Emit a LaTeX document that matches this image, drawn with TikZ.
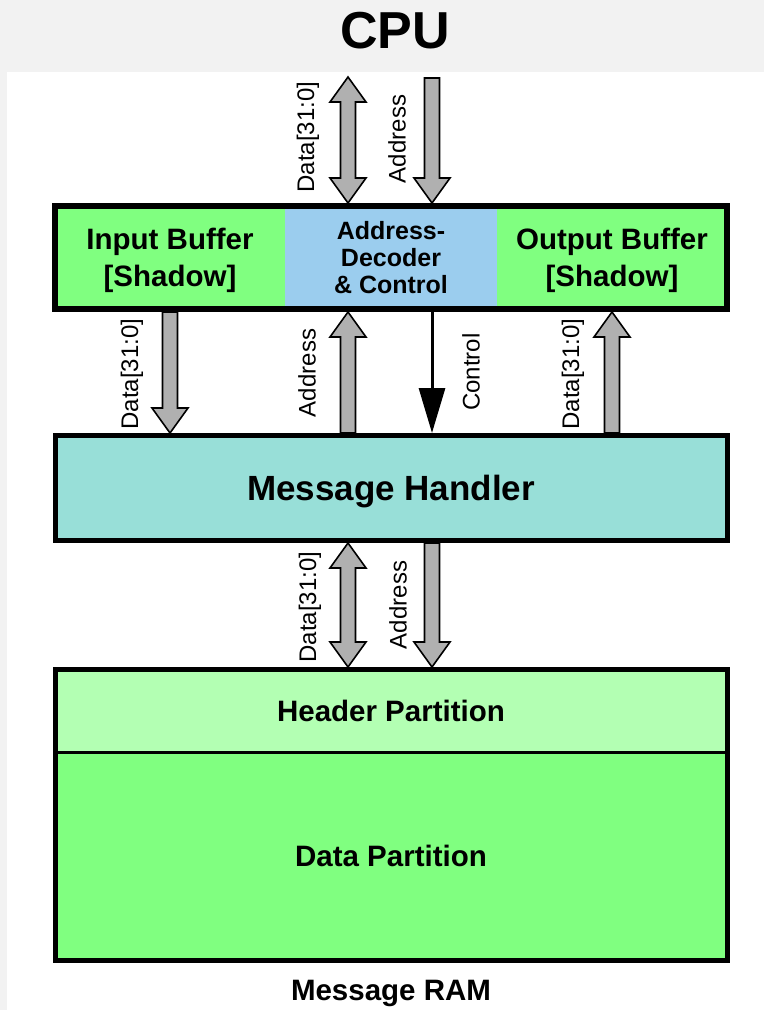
\documentclass[tikz,border=0pt]{standalone}
\usepackage{fontspec}
\setmainfont{Liberation Sans}
\usetikzlibrary{calc,arrows.meta}

\definecolor{bggray}{HTML}{F2F2F2}
\definecolor{bufgreen}{HTML}{80FF80}
\definecolor{decblue}{HTML}{9BCDEE}
\definecolor{mhteal}{HTML}{98DFD8}
\definecolor{hdrgreen}{HTML}{B3FFB3}
\definecolor{busgray}{HTML}{B0B0B0}

% fat bus arrow, head at the second end
\newcommand\busline[2]{%
  \path[bus] let \p1=(#1), \p2=(#2), \n1={sign(\y2-\y1)} in
    (\x1-7.5pt,\y1) -- (\x1-7.5pt,\y2-\n1*25pt) -- (\x1-18pt,\y2-\n1*25pt)
    -- (\x1,\y2) -- (\x1+18pt,\y2-\n1*25pt) -- (\x1+7.5pt,\y2-\n1*25pt)
    -- (\x1+7.5pt,\y1) -- cycle;}
% fat bus arrow, heads at both ends
\newcommand\busboth[2]{%
  \path[bus] let \p1=(#1), \p2=(#2), \n1={sign(\y2-\y1)} in
    (\x1,\y1) -- (\x1-18pt,\y1+\n1*25pt) -- (\x1-7.5pt,\y1+\n1*25pt)
    -- (\x1-7.5pt,\y2-\n1*25pt) -- (\x1-18pt,\y2-\n1*25pt) -- (\x1,\y2)
    -- (\x1+18pt,\y2-\n1*25pt) -- (\x1+7.5pt,\y2-\n1*25pt)
    -- (\x1+7.5pt,\y1+\n1*25pt) -- (\x1+18pt,\y1+\n1*25pt) -- cycle;}

\begin{document}
\begin{tikzpicture}[x=1pt,y=-1pt,
  every node/.style={inner sep=0pt,outer sep=0pt},
  cell/.style={rectangle,minimum height=103pt,align=center,
    font=\fontsize{29.5pt}{37pt}\selectfont\bfseries},
  frame/.style={rectangle,draw=black,line width=#1,outer sep=0.5\pgflinewidth},
  bus/.style={draw=black,fill=busgray,line width=1.6pt,line join=miter},
  ctrl/.style={draw=black,line width=3pt,-{Triangle[length=45pt,width=26pt]}},
  buslabel/.style={rotate=90,font=\fontsize{24pt}{24pt}\selectfont},
  title/.style={font=\fontsize{29.5pt}{30pt}\selectfont\bfseries}]
\fill[bggray] (0,0) rectangle (764,1010);
\fill[white] (7,72) rectangle (764,1010);
\useasboundingbox (0,0) rectangle (764,1010);

\node[font=\fontsize{52pt}{52pt}\selectfont\bfseries,anchor=base] (cpu) at (395,48) {CPU};

% buffers and decoder
\node[cell,fill=bufgreen,minimum width=230pt] (inbuf) at (170,260) {Input Buffer\\{[}Shadow{]}};
\node[cell,fill=decblue,minimum width=212pt,font=\fontsize{25pt}{27pt}\selectfont\bfseries] (decoder) at (391,257.5) {Address-\\Decoder\\\&~Control};
\node[cell,fill=bufgreen,minimum width=230pt] (outbuf) at (612,260) {Output Buffer\\{[}Shadow{]}};
\node[frame=6pt,minimum width=672pt,minimum height=103pt] (topbox) at (391,257.5) {};

% message handler
\node[frame=5pt,fill=mhteal,minimum width=672pt,minimum height=105pt,
  text height=25pt,text depth=0pt,
  font=\fontsize{35pt}{35pt}\selectfont\bfseries] (handler) at (391,488) {Message Handler};

% message ram
\node[title,rectangle,fill=hdrgreen,minimum width=672pt,minimum height=82.5pt] (header) at (391,710.75) {Header Partition};
\node[title,rectangle,fill=bufgreen,minimum width=672pt,minimum height=208.5pt] (datapart) at (391,856.25) {Data Partition};
\draw[line width=3pt] (header.south west) -- (header.south east);
\node[frame=5pt,minimum width=672pt,minimum height=291pt] (ram) at (391,815) {};
\node[title,anchor=base] (ramname) at (391,1000) {Message RAM};

% cpu side
\coordinate (cpudat) at (348,77);
\coordinate (cpuadr) at (432,78);
\busboth{cpudat}{cpudat |- topbox.north}
\busline{cpuadr}{cpuadr |- topbox.north}
\node[buslabel] (l1) at (308,137) {Data[31:0]};
\node[buslabel] (l2) at (397,139) {Address};

% buffers to handler
\busline{inbuf.south |- topbox.south}{inbuf.south |- handler.north}
\busline{cpudat |- handler.north}{cpudat |- topbox.south}
\draw[ctrl] (cpuadr |- topbox.south) -- (cpuadr |- handler.north);
\busline{outbuf.south |- handler.north}{outbuf.south |- topbox.south}
\node[buslabel] (l3) at (132,374) {Data[31:0]};
\node[buslabel] (l4) at (307,373) {Address};
\node[buslabel] (l5) at (471,372) {Control};
\node[buslabel] (l6) at (573,374) {Data[31:0]};

% handler to ram
\busboth{cpudat |- handler.south}{cpudat |- ram.north}
\busline{cpuadr |- handler.south}{cpuadr |- ram.north}
\node[buslabel] (l7) at (310,607) {Data[31:0]};
\node[buslabel] (l8) at (398,605) {Address};
\end{tikzpicture}
\end{document}
